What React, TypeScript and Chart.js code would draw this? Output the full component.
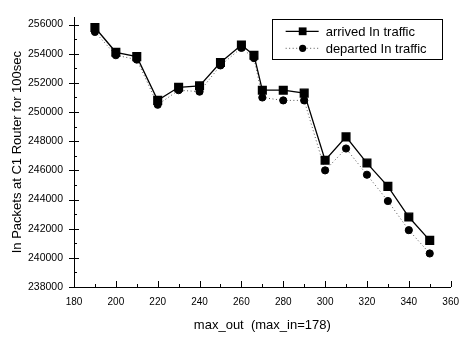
import React, { useEffect, useRef } from 'react';
import { Chart, registerables } from 'chart.js';

Chart.register(...registerables);

const xValues = [190, 200, 210, 220, 230, 240, 250, 260, 266, 270, 280, 290, 300, 310, 320, 330, 340, 350];
const arrived = [255800, 254100, 253800, 250800, 251700, 251800, 253400, 254600, 253900, 251500, 251500, 251300, 246700, 248300, 246500, 244900, 242800, 241200];
const departed = [255500, 253900, 253600, 250500, 251500, 251400, 253200, 254400, 253700, 251000, 250800, 250800, 246000, 247500, 245700, 243900, 241900, 240300];
const xTicks = [180, 200, 220, 240, 260, 280, 300, 320, 340, 360];
const yTicks = [238000, 240000, 242000, 244000, 246000, 248000, 250000, 252000, 254000, 256000];
const seriesLabels = ['arrived In traffic', 'departed In traffic'];
const xTitle = 'max_out  (max_in=178)';
const yTitle = 'In Packets at C1 Router for 100sec';

const FONT = "'Liberation Sans', Arial, Helvetica, sans-serif";

const minorTicks = {
  id: 'minorTicks',
  afterDraw(chart: any) {
    const { ctx, chartArea } = chart;
    const xs = chart.scales.x;
    const ys = chart.scales.y;
    ctx.save();
    ctx.strokeStyle = '#000';
    ctx.lineWidth = 1;
    ctx.beginPath();
    for (let v = xs.min; v <= xs.max; v += 10) {
      const px = Math.round(xs.getPixelForValue(v)) + 0.5;
      const major = v % 20 === 0;
      ctx.moveTo(px, chartArea.bottom);
      ctx.lineTo(px, chartArea.bottom - (major ? 6 : 3));
    }
    for (let v = ys.min; v <= ys.max; v += 1000) {
      const py = Math.round(ys.getPixelForValue(v)) + 0.5;
      const major = v % 2000 === 0;
      if (major) {
        ctx.moveTo(chartArea.left - 5, py);
        ctx.lineTo(chartArea.left + 5, py);
      } else {
        ctx.moveTo(chartArea.left, py);
        ctx.lineTo(chartArea.left + 3, py);
      }
    }
    ctx.stroke();
    ctx.restore();
  },
};

const boxLegend = {
  id: 'boxLegend',
  afterDraw(chart: any) {
    const { ctx, chartArea } = chart;
    const right = chartArea.right - 9;
    const top = chartArea.top + 2;
    const w = 170;
    const h = 40;
    const left = right - w;
    ctx.save();
    ctx.fillStyle = '#fff';
    ctx.fillRect(left, top, w, h);
    ctx.strokeStyle = '#000';
    ctx.lineWidth = 1;
    ctx.strokeRect(Math.round(left) + 0.5, Math.round(top) + 0.5, w, h);
    chart.data.datasets.forEach((ds: any, i: number) => {
      const cy = top + 12 + i * 17;
      ctx.beginPath();
      ctx.strokeStyle = ds.borderColor;
      ctx.setLineDash(ds.borderDash || []);
      ctx.lineWidth = ds.borderWidth;
      ctx.moveTo(left + 14, cy);
      ctx.lineTo(left + 47, cy);
      ctx.stroke();
      ctx.setLineDash([]);
      ctx.fillStyle = '#000';
      ctx.beginPath();
      if (ds.pointStyle === 'rect') {
        const s = ds.pointRadius * Math.SQRT1_2;
        ctx.fillRect(left + 31 - s, cy - s, 2 * s, 2 * s);
      } else {
        ctx.arc(left + 31, cy, ds.pointRadius, 0, Math.PI * 2);
        ctx.fill();
      }
      ctx.font = `13px ${FONT}`;
      ctx.textBaseline = 'middle';
      ctx.textAlign = 'left';
      ctx.fillText(ds.label, left + 54, cy + 1);
    });
    ctx.restore();
  },
};

export default function App() {
  const ref = useRef<HTMLCanvasElement>(null);
  useEffect(() => {
    if (!ref.current) return;
    const chart = new Chart(ref.current, {
      type: 'line',
      data: {
        datasets: [
          {
            label: seriesLabels[0],
            data: xValues.map((x, i) => ({ x, y: arrived[i] })),
            borderColor: '#000',
            backgroundColor: '#000',
            borderWidth: 1.3,
            pointStyle: 'rect',
            pointRadius: 5.5,
            pointHoverRadius: 5.5,
            tension: 0,
          },
          {
            label: seriesLabels[1],
            data: xValues.map((x, i) => ({ x, y: departed[i] })),
            borderColor: '#555',
            backgroundColor: '#000',
            pointBorderColor: '#000',
            borderWidth: 1,
            borderDash: [1, 2.5],
            pointStyle: 'circle',
            pointRadius: 3.6,
            pointHoverRadius: 3.6,
            tension: 0,
          },
        ],
      },
      options: {
        animation: false,
        responsive: true,
        maintainAspectRatio: false,
        layout: { padding: { top: 12, right: 11, left: 0, bottom: 0 } },
        plugins: { legend: { display: false }, tooltip: { enabled: false } },
        scales: {
          x: {
            type: 'linear',
            min: 180,
            max: 360,
            afterBuildTicks: (s: any) => { s.ticks = xTicks.map((v) => ({ value: v })); },
            afterFit: (s: any) => { s.height = 50; },
            grid: { display: false, drawTicks: false },
            border: { display: true, color: '#000', width: 1 },
            ticks: {
              color: '#000',
              padding: 9,
              maxRotation: 0,
              autoSkip: false,
              font: { family: FONT, size: 10 },
              callback: (v: any) => String(v),
            },
            title: {
              display: true,
              text: xTitle,
              color: '#000',
              font: { family: FONT, size: 13 },
              padding: { top: 0, bottom: 4 },
            },
          },
          y: {
            type: 'linear',
            min: 238000,
            max: 256500,
            afterBuildTicks: (s: any) => { s.ticks = yTicks.map((v) => ({ value: v })); },
            afterFit: (s: any) => { s.width = 74; },
            grid: { display: false, drawTicks: false },
            border: { display: true, color: '#000', width: 1 },
            ticks: {
              color: '#000',
              padding: 11,
              autoSkip: false,
              font: { family: FONT, size: 10.5 },
              callback: (v: any) => String(v),
            },
            title: {
              display: true,
              text: yTitle,
              color: '#000',
              font: { family: FONT, size: 13 },
              padding: { top: 10, bottom: 0 },
            },
          },
        },
      },
      plugins: [minorTicks, boxLegend],
    });
    return () => chart.destroy();
  }, []);
  return (
    <div style={{ position: 'fixed', left: 0, top: 0, width: 468, height: 337, background: '#fff' }}>
      <canvas ref={ref} />
    </div>
  );
}
